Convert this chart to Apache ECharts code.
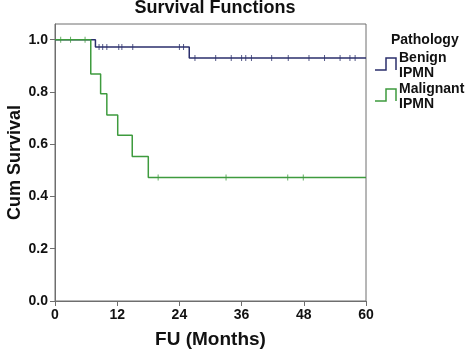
<!DOCTYPE html>
<html><head><meta charset="utf-8">
<script src="https://cdn.jsdelivr.net/npm/echarts@6/dist/echarts.min.js"></script>
<style>html,body{margin:0;padding:0;background:#fff}#c{width:474px;height:361px}</style>
</head><body><div id="c"></div>
<script>
// Kaplan-Meier step points [month, cumulative survival]
const benignSteps = [[0,1.0],[7.8,0.972],[25.9,0.930],[60,0.930]];
const malignantSteps = [[0,1.0],[6.9,0.869],[8.8,0.793],[10.0,0.712],[12.1,0.634],[14.9,0.553],[18.0,0.473],[60,0.473]];
// censored observations
const benignCensorX = [8.5,9.2,10.0,12.3,12.9,15.0,24.0,24.8];
const benignCensorY = [0.972,0.972,0.972,0.972,0.972,0.972,0.972,0.972];
const benignCensor2X = [27.0,31.0,34.0,36.0,36.8,37.9,41.8,45.0,49.0,52.0,55.0,56.9,57.9];
const benignCensor2Y = [0.93,0.93,0.93,0.93,0.93,0.93,0.93,0.93,0.93,0.93,0.93,0.93,0.93];
const malignantCensorX = [1.1,3.0,5.8,19.9,33.0,44.9,47.9];
const malignantCensorY = [1.0,1.0,1.0,0.473,0.473,0.473,0.473];
const xTicks = [0,12,24,36,48,60];
const yTicks = [0,0.2,0.4,0.6,0.8,1.0];
const seriesNames = ['Benign\nIPMN','Malignant\nIPMN'];

const navy = '#2b2f6c', green = '#3e9b3e', grey = '#6e6e6e';
const font = '"Liberation Sans", Arial, sans-serif';
const zip = (xs, ys) => xs.map((x, i) => [x, ys[i]]);

const chart = echarts.init(document.getElementById('c'), null, {renderer:'canvas'});
chart.setOption({
  animation:false,
  backgroundColor:'#fff',
  title:{text:'Survival Functions',left:210,top:-6,textAlign:'center',
    textStyle:{fontFamily:font,fontWeight:'bold',fontSize:18,color:'#111'}},
  grid:{left:55,right:108,top:24,bottom:60,show:true,borderColor:grey,borderWidth:1,
    containLabel:false,outerBoundsMode:'none'},
  xAxis:{type:'value',min:0,max:60,interval:12,
    name:'FU (Months)',nameLocation:'middle',nameGap:29,nameMoveOverlap:false,
    nameTextStyle:{fontFamily:font,fontWeight:'bold',fontSize:19,color:'#111'},
    axisLine:{show:true,lineStyle:{color:grey,width:1}},
    axisTick:{show:true,length:5,lineStyle:{color:grey}},
    axisLabel:{customValues:xTicks,fontFamily:font,fontWeight:'bold',fontSize:14,color:'#111',margin:7},
    splitLine:{show:false}},
  yAxis:{type:'value',min:0,max:1.06,
    name:'Cum Survival',nameLocation:'middle',nameGap:31,nameMoveOverlap:false,
    nameTextStyle:{fontFamily:font,fontWeight:'bold',fontSize:18,color:'#111'},
    axisLine:{show:true,lineStyle:{color:grey,width:1}},
    axisTick:{show:true,length:5,customValues:yTicks,lineStyle:{color:grey}},
    axisLabel:{customValues:yTicks,formatter:v=>v.toFixed(1),fontFamily:font,fontWeight:'bold',fontSize:14,color:'#111',margin:7},
    splitLine:{show:false}},
  series:[
    {name:seriesNames[0],type:'line',step:'end',data:benignSteps,showSymbol:false,
      lineStyle:{color:navy,width:1.5},z:3},
    {name:seriesNames[1],type:'line',step:'end',data:malignantSteps,showSymbol:false,
      lineStyle:{color:green,width:1.5},z:4},
    {type:'scatter',data:zip(benignCensorX,benignCensorY).concat(zip(benignCensor2X,benignCensor2Y)),
      symbol:'rect',symbolSize:[1,6],itemStyle:{color:navy},z:5},
    {type:'scatter',data:zip(malignantCensorX,malignantCensorY),
      symbol:'rect',symbolSize:[1,6],itemStyle:{color:green},z:6}
  ],
  graphic:[
    {type:'text',left:391,top:33,style:{text:'Pathology',font:'bold 14px '+font,fill:'#111'}},
    {type:'polyline',shape:{points:[[375,70],[386,70],[386,58],[396,58],[396,70]]},style:{stroke:navy,lineWidth:1.5,fill:null}},
    {type:'text',left:399,top:51,style:{text:seriesNames[0],font:'bold 14px '+font,fill:'#111',lineHeight:15}},
    {type:'polyline',shape:{points:[[375,101],[386,101],[386,89],[396,89],[396,101]]},style:{stroke:green,lineWidth:1.5,fill:null}},
    {type:'text',left:399,top:82,style:{text:seriesNames[1],font:'bold 14px '+font,fill:'#111',lineHeight:15}}
  ]
});
</script></body></html>
